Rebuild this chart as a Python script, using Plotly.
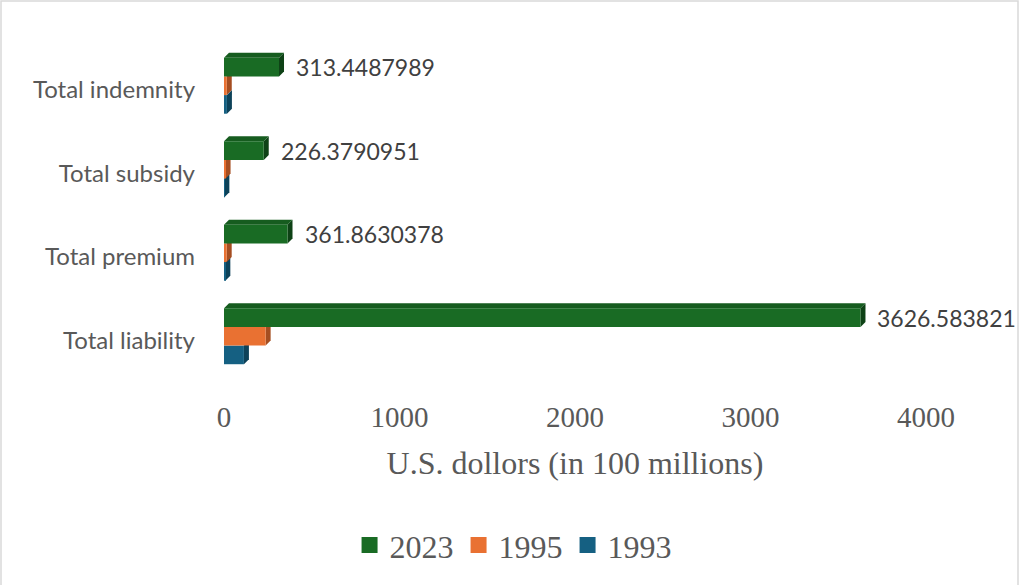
import plotly.graph_objects as go

# Crop insurance totals, in 100 millions of U.S. dollars
categories = ["Total liability", "Total premium", "Total subsidy", "Total indemnity"]
years = ["1993", "1995", "2023"]
v1993 = [113.5, 7.6, 2.0, 16.6]
v1995 = [237.2, 15.4, 8.9, 15.7]
v2023 = [3626.583821, 361.8630378, 226.3790951, 313.4487989]
label_texts = ["3626.583821", "361.8630378", "226.3790951", "313.4487989"]
x_ticks = [0, 1000, 2000, 3000, 4000]

series = [v1993, v1995, v2023]
front = ["#156082", "#E97132", "#196B24"]
side = ["#0d4259", "#a54e21", "#0e4216"]
top_face = ["#134f6b", "#c95f29", "#165c1f"]

W, H = 1020, 585
L, R, T, B = 224, 94, 44, 207
PW, PH = W - L - R, H - T - B
XMAX = 4000
BARGAP = 0.33
bw = (1 - BARGAP) / len(series)      # bar thickness in category units
dx = 5 * XMAX / PW                   # 3-D depth, horizontal (data units)
dy = 5 * 4 / PH                      # 3-D depth, vertical (category units)

ypos = list(range(len(categories)))
label_pos = [p - 4 * 4 / PH for p in ypos]   # category labels sit a little low

SERIF = "Liberation Serif"
GREY = "#595959"

fig = go.Figure()
for k, (name, vals) in enumerate(zip(years, series)):
    fig.add_trace(go.Bar(
        y=ypos, x=vals, name=name, orientation="h",
        marker=dict(color=front[k], line=dict(width=0)),
        hoverinfo="x+name", showlegend=False,
    ))

# Legend keys as square swatches
for k in reversed(range(len(years))):
    fig.add_trace(go.Scatter(
        x=[None], y=[None], mode="markers", name=years[k],
        marker=dict(symbol="square", size=16, color=front[k]),
        showlegend=True,
    ))

# Oblique depth faces for a 3-D bar look
shapes = []
for k, vals in enumerate(series):
    for i, v in enumerate(vals):
        y0 = i + (k - 1) * bw - bw / 2
        y1 = y0 + bw
        shapes.append(dict(
            type="path", xref="x", yref="y", layer="below",
            path=f"M {v},{y0} L {v},{y1} L {v+dx},{y1+dy} L {v+dx},{y0+dy} Z",
            fillcolor=side[k], line=dict(width=0)))
        if k == len(series) - 1:
            shapes.append(dict(
                type="path", xref="x", yref="y", layer="below",
                path=f"M 0,{y1} L {v},{y1} L {v+dx},{y1+dy} L {dx},{y1+dy} Z",
                fillcolor=top_face[k], line=dict(width=0)))

# Outer chart border
shapes.append(dict(type="rect", xref="paper", yref="paper",
                   x0=-(L - 1) / PW, x1=1 + (R - 2) / PW,
                   y0=-(B + 5) / PH, y1=1 + (T - 1) / PH,
                   line=dict(color="#d9d9d9", width=1.5), fillcolor="rgba(0,0,0,0)",
                   layer="below"))

annotations = []
for i, (v, txt) in enumerate(zip(v2023, label_texts)):
    annotations.append(dict(
        x=v, y=i + bw, xref="x", yref="y", text=txt, showarrow=False,
        xanchor="left", yanchor="middle", xshift=15,
        font=dict(family="Lato", size=23, color="#404040")))

fig.update_layout(
    width=W, height=H,
    margin=dict(l=L, r=R, t=T, b=B, autoexpand=False),
    paper_bgcolor="white", plot_bgcolor="white",
    barmode="group", bargap=BARGAP, bargroupgap=0,
    shapes=shapes, annotations=annotations,
    showlegend=True,
    legend=dict(orientation="h",
                xref="container", yref="container",
                x=0.503, xanchor="center", y=0.068, yanchor="middle",
                font=dict(family=SERIF, size=32, color=GREY),
                itemwidth=30, itemsizing="trace"),
    xaxis=dict(range=[0, XMAX], tickvals=x_ticks, showgrid=False, zeroline=False,
               showline=False, ticks="", ticklabelstandoff=19,
               tickfont=dict(family=SERIF, size=29, color=GREY),
               title=dict(text="U.S. dollors (in 100 millions)", standoff=19,
                          font=dict(family=SERIF, size=32, color=GREY))),
    yaxis=dict(range=[-0.5, len(categories) - 0.5], tickvals=label_pos, ticktext=categories,
               showgrid=False, zeroline=False, showline=False, ticks="",
               ticklabelstandoff=28,
               tickfont=dict(family="Lato", size=24, color=GREY)),
)

fig.write_html("out.html")
